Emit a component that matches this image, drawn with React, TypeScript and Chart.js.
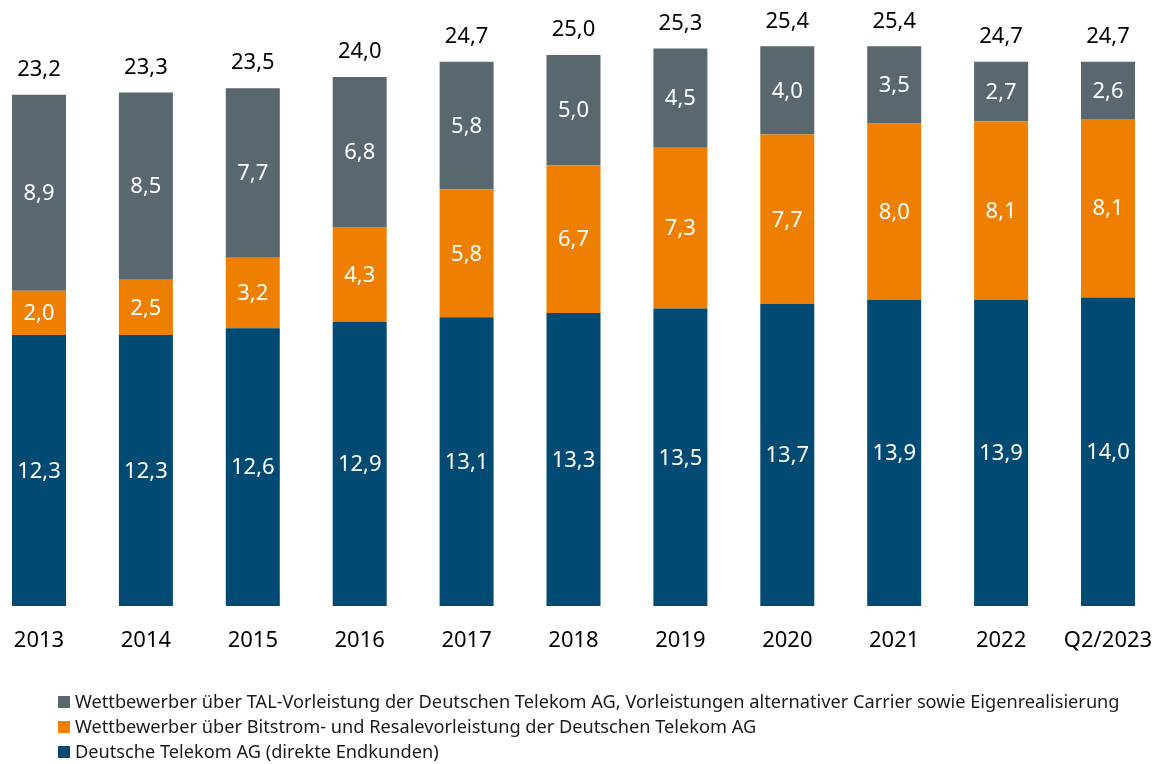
import { useEffect, useRef } from 'react';
import { Chart, registerables } from 'chart.js';

Chart.register(...registerables);

const categories = ['2013', '2014', '2015', '2016', '2017', '2018', '2019', '2020', '2021', '2022', 'Q2/2023'];
const telekomDirect = [12.3, 12.3, 12.6, 12.9, 13.1, 13.3, 13.5, 13.7, 13.9, 13.9, 14.0];
const bitstromResale = [2.0, 2.5, 3.2, 4.3, 5.8, 6.7, 7.3, 7.7, 8.0, 8.1, 8.1];
const talOther = [8.9, 8.5, 7.7, 6.8, 5.8, 5.0, 4.5, 4.0, 3.5, 2.7, 2.6];
const totals = [23.2, 23.3, 23.5, 24.0, 24.7, 25.0, 25.3, 25.4, 25.4, 24.7, 24.7];
const seriesLabels = [
  'Deutsche Telekom AG (direkte Endkunden)',
  'Wettbewerber über Bitstrom- und Resalevorleistung der Deutschen Telekom AG',
  'Wettbewerber über TAL-Vorleistung der Deutschen Telekom AG, Vorleistungen alternativer Carrier sowie Eigenrealisierung',
];
const seriesColors = ['#004a73', '#ee7f00', '#59676f'];

const FONT = '"Noto Sans", sans-serif';
const fmt = (v: number) => v.toFixed(1).replace('.', ',');

const valueLabels = {
  id: 'valueLabels',
  afterDatasetsDraw(chart: any) {
    const ctx = chart.ctx;
    ctx.save();
    ctx.font = `22px ${FONT}`;
    ctx.textAlign = 'center';
    ctx.textBaseline = 'middle';
    chart.data.datasets.forEach((ds: any, di: number) => {
      const meta = chart.getDatasetMeta(di);
      meta.data.forEach((bar: any, i: number) => {
        const { x, y, base } = bar.getProps(['x', 'y', 'base'], true);
        ctx.fillStyle = '#ffffff';
        ctx.fillText(fmt(ds.data[i]), x, (y + base) / 2 + 1);
      });
    });
    const topMeta = chart.getDatasetMeta(chart.data.datasets.length - 1);
    topMeta.data.forEach((bar: any, i: number) => {
      const { x, y } = bar.getProps(['x', 'y'], true);
      ctx.fillStyle = '#000000';
      ctx.fillText(fmt(totals[i]), x, y - 25);
    });
    ctx.restore();
  },
};

// Legend drawn below the axis: top series first, as in the reference
const bottomLegend = {
  id: 'bottomLegend',
  afterDraw(chart: any) {
    const ctx = chart.ctx;
    const area = chart.chartArea;
    const startY = area.bottom + 96;
    const rowH = 25;
    ctx.save();
    ctx.font = `18.2px ${FONT}`;
    ctx.textAlign = 'left';
    ctx.textBaseline = 'middle';
    const ds = chart.data.datasets.slice().reverse();
    ds.forEach((d: any, r: number) => {
      const cy = startY + r * rowH;
      ctx.fillStyle = d.backgroundColor;
      ctx.fillRect(58, cy - 6, 12, 12);
      ctx.fillStyle = '#1a1a1a';
      ctx.fillText(d.label, 75, cy + 1);
    });
    ctx.restore();
  },
};

export default function App() {
  const ref = useRef<HTMLCanvasElement>(null);
  useEffect(() => {
    if (!ref.current) return;
    const chart = new Chart(ref.current, {
      type: 'bar',
      data: {
        labels: categories,
        datasets: [telekomDirect, bitstromResale, talOther].map((d, i) => ({
          label: seriesLabels[i],
          data: d,
          backgroundColor: seriesColors[i],
          borderWidth: 0,
          barPercentage: 0.505,
          categoryPercentage: 1,
          clip: false,
        })),
      },
      options: {
        responsive: false,
        animation: false,
        devicePixelRatio: 1,
        layout: { padding: { top: 11, left: 39, right: 52, bottom: 110 } },
        scales: {
          x: {
            stacked: true,
            offset: false,
            grid: { display: false, drawTicks: false },
            border: { display: false },
            ticks: {
              color: '#000000',
              font: { family: FONT, size: 22 },
              padding: 22,
              maxRotation: 0,
              autoSkip: false,
            },
            afterFit: (scale: any) => {
              scale.height = 48;
              scale.paddingLeft = 0;
              scale.paddingRight = 0;
            },
          },
          y: {
            stacked: true,
            display: false,
            min: 0,
            max: 27,
          },
        },
        plugins: {
          legend: { display: false },
          tooltip: { enabled: false },
        },
      },
      plugins: [valueLabels, bottomLegend],
    });
    return () => chart.destroy();
  }, []);
  return (
    <div style={{ position: 'absolute', left: 0, top: 0, width: 1160, height: 764 }}>
      <canvas ref={ref} width={1160} height={764} style={{ width: 1160, height: 764 }} />
    </div>
  );
}
